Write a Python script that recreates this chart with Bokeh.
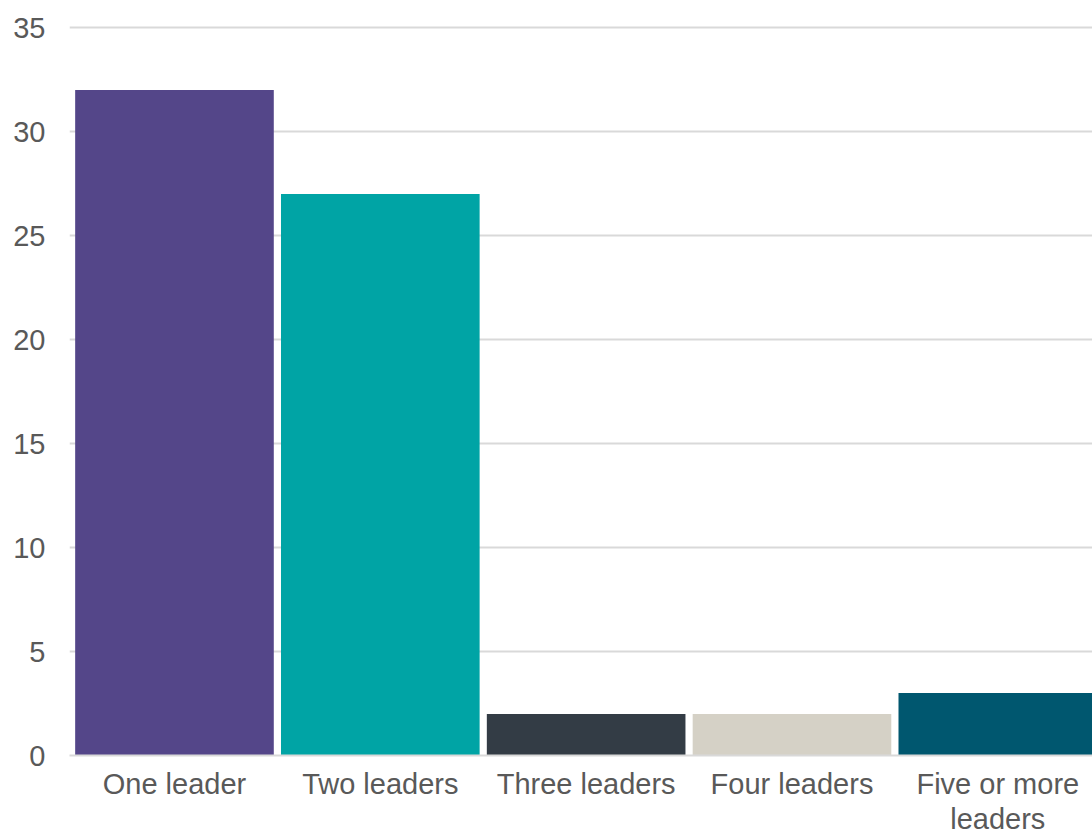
from bokeh.plotting import figure
from bokeh.models import FixedTicker, Range1d, ColumnDataSource
from bokeh.embed import file_html
from bokeh.resources import INLINE

categories = ["One leader", "Two leaders", "Three leaders", "Four leaders", "Five or more\nleaders"]
values = [32, 27, 2, 2, 3]
y_ticks = [0, 5, 10, 15, 20, 25, 30, 35]

COLORS = ["#544689", "#00A4A5", "#333C45", "#D5D1C6", "#00576F"]
FONT = "Liberation Sans"
TEXT_COLOR = "#595959"
GRID_COLOR = "#D9D9D9"

idx = list(range(len(categories)))
src = ColumnDataSource(dict(x=idx, top=values, color=COLORS, label=categories))

p = figure(width=1092, height=837, output_backend="svg", toolbar_location=None,
           x_range=Range1d(-0.51, 4.46), y_range=Range1d(0, 35.82),
           min_border_left=69, min_border_right=0, min_border_top=10, min_border_bottom=81)
p.outline_line_color = None
p.background_fill_color = "white"
p.border_fill_color = "white"

p.vbar(x="x", top="top", width=0.965, fill_color="color", line_color=None, source=src)

p.xgrid.grid_line_color = None
p.ygrid.ticker = FixedTicker(ticks=y_ticks)
p.ygrid.grid_line_color = GRID_COLOR
p.ygrid.grid_line_width = 2

p.yaxis.ticker = FixedTicker(ticks=y_ticks)
p.yaxis.axis_line_color = None
p.yaxis.major_tick_line_color = None
p.yaxis.minor_tick_line_color = None
p.yaxis.major_tick_out = 0
p.yaxis.major_tick_in = 0
p.yaxis.minor_tick_out = 0
p.yaxis.major_label_standoff = 24
p.yaxis.major_label_text_font = FONT
p.yaxis.major_label_text_font_size = "29px"
p.yaxis.major_label_text_color = TEXT_COLOR

p.xaxis.ticker = FixedTicker(ticks=idx)
p.xaxis.major_label_overrides = {i: c for i, c in zip(idx, categories)}
p.xaxis.axis_line_color = GRID_COLOR
p.xaxis.axis_line_width = 2
p.xaxis.major_tick_line_color = None
p.xaxis.minor_tick_line_color = None
p.xaxis.major_tick_out = 0
p.xaxis.major_tick_in = 0
p.xaxis.minor_tick_out = 0
p.xaxis.major_label_standoff = 12
p.xaxis.major_label_text_font = FONT
p.xaxis.major_label_text_font_size = "29px"
p.xaxis.major_label_text_line_height = 1.1
p.xaxis.major_label_text_color = TEXT_COLOR

open("out.html", "w").write(file_html(p, INLINE))
